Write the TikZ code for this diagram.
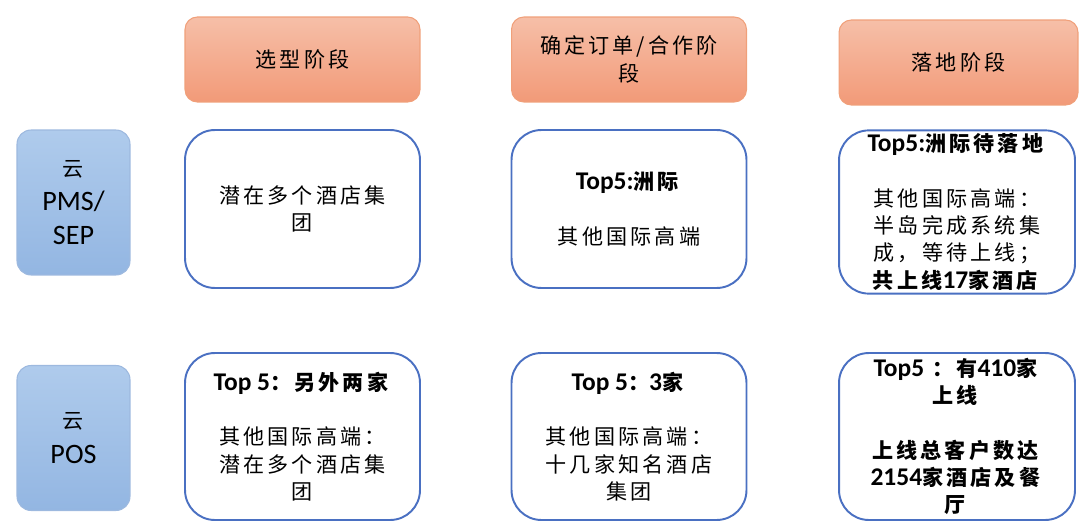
\documentclass[tikz,border=0pt]{standalone}
\usepackage{fontspec}
\setmainfont{Carlito}
\newfontfamily\cjk{Noto Sans CJK SC}[LetterSpace=15]
\newfontfamily\lat{Carlito}
\newcommand\lnum[1]{{\lat\fontsize{14.5}{15.5}\selectfont #1}}
\usetikzlibrary{positioning}
\definecolor{stagetop}{HTML}{F6BFA8}
\definecolor{stagebot}{HTML}{F29A78}
\definecolor{stageline}{HTML}{F0A07A}
\definecolor{sidetop}{HTML}{AFCBEC}
\definecolor{sidebot}{HTML}{93B6E2}
\definecolor{sideline}{HTML}{9DB9DF}
\definecolor{cellline}{HTML}{4A70C2}

\begin{document}
\begin{tikzpicture}[
  x=0.02cm,y=-0.02cm,
  line join=round
]
  \tikzset{
    stage/.style={rectangle,rounded corners=7pt,draw=stageline,line width=0.6pt,
      top color=stagetop,bottom color=stagebot,minimum width=4.7cm,minimum height=1.7cm,
      align=center,font=\cjk\fontsize{12}{15.5}\selectfont},
    side/.style={rectangle,rounded corners=8pt,draw=sideline,line width=0.6pt,
      top color=sidetop,bottom color=sidebot,minimum width=2.26cm,minimum height=2.9cm,
      align=center,font=\lat\fontsize{16}{19.5}\selectfont},
    cell/.style={rectangle,rounded corners=17pt,draw=cellline,line width=1.1pt,fill=white,
      minimum width=4.7cm,minimum height=3.16cm,inner sep=2pt,
      align=center,font=\cjk\fontsize{12}{15.5}\selectfont},
    tall/.style={minimum height=3.34cm}
  }
  \useasboundingbox (0,0) rectangle (1087,530);

  % Stage headers
  \node[stage] (h1) at (302.5,59.5) {选型阶段};
  \node[stage] (h2) at (629,59.5) {确定订单/合作阶\\段};
  \node[stage,minimum width=4.78cm] (h3) at (958.5,62.5) {落地阶段};

  % Product rows
  \node[side] (pms) at (73.5,202.5) {{\cjk\fontsize{12}{19.5}\selectfont 云}\\PMS/\\SEP};
  \node[side] (pos) at (73.5,438) {{\cjk\fontsize{12}{19.5}\selectfont 云}\\POS};

  % Cells, first row
  \node[cell] (c11) at (302.5,209) {潜在多个酒店集\\团};
  \node[cell] (c12) at (629,209) {\textbf{\lnum{Top5:}洲际}\\[15.5pt]其他国际高端};
  \node[cell,minimum width=4.72cm] (c13) at (957,212)
    {\textbf{\lnum{Top5:}洲际待落地}\\[15.5pt]其他国际高端：\\半岛完成系统集\\成，等待上线；\\\textbf{共上线\lnum{17}家酒店}};

  % Cells, second row
  \node[cell,tall] (c21) at (302.5,436.5)
    {\textbf{\lnum{Top 5}：另外两家}\\[15.5pt]其他国际高端：\\潜在多个酒店集\\团};
  \node[cell,tall] (c22) at (629,436.5)
    {\textbf{\lnum{Top 5}：\lnum{3}家}\\[15.5pt]其他国际高端：\\十几家知名酒店\\集团};
  \node[cell,tall,minimum width=4.72cm] (c23) at (957,436.5)
    {\textbf{\lnum{Top5} ：有\lnum{410}家}\\\textbf{上线}\\[15.5pt]\textbf{上线总客户数达}\\\textbf{\lnum{2154}家酒店及餐}\\\textbf{厅}};
\end{tikzpicture}
\end{document}
